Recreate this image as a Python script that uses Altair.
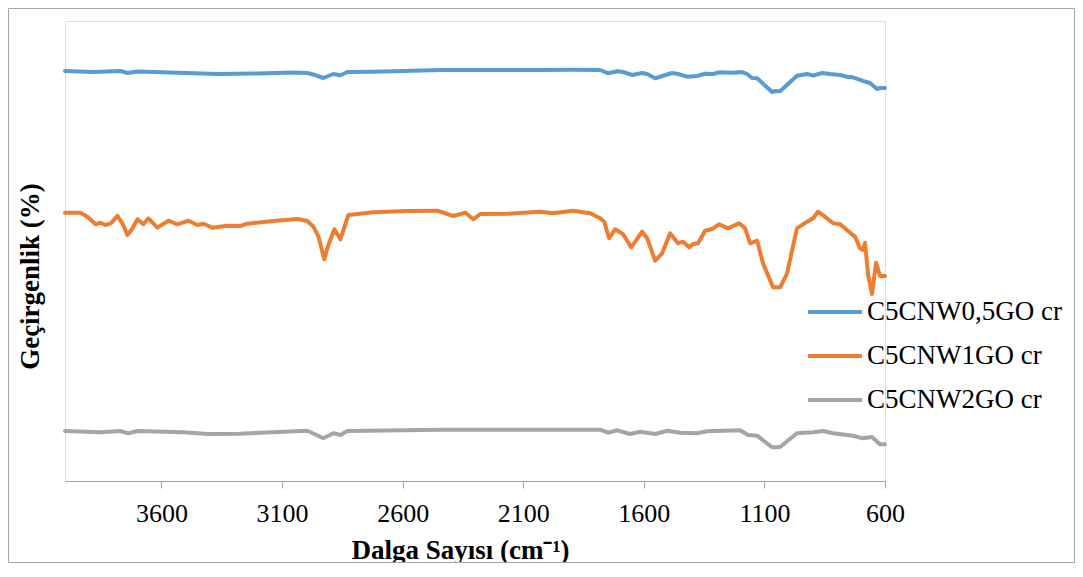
import altair as alt
import pandas as pd

series_names = ["C5CNW0,5GO cr", "C5CNW1GO cr", "C5CNW2GO cr"]
series_colors = ["#5B9BD5", "#ED7D31", "#A5A5A5"]
x_ticks = [3600, 3100, 2600, 2100, 1600, 1100, 600]

blue_wn = [4000, 3882, 3770, 3741, 3699, 3633, 3467, 3368, 3202, 3053, 2995, 2970, 2929, 2887,
           2858, 2829, 2722, 2444, 2030, 1893, 1781, 1748, 1710, 1686, 1648, 1607, 1586, 1553,
           1524, 1483, 1458, 1420, 1379, 1346, 1313, 1284, 1230, 1193, 1172, 1151, 1130, 1068,
           1056, 1035, 965, 923, 898, 861, 828, 786, 757, 733, 691, 662, 633, 621, 600]
blue_t = [89.13, 88.91, 89.13, 88.70, 89.02, 88.91, 88.63, 88.48, 88.59, 88.80, 88.70, 88.37,
          87.61, 88.48, 88.20, 88.91, 88.98, 89.35, 89.35, 89.41, 89.35, 88.63, 89.07, 88.91,
          88.26, 88.70, 88.48, 87.54, 88.04, 88.70, 88.48, 87.89, 88.04, 88.54, 88.48, 88.85,
          88.76, 88.91, 88.48, 87.61, 87.54, 84.57, 84.78, 84.72, 88.11, 88.48, 88.11, 88.70,
          88.48, 88.26, 87.89, 87.76, 86.96, 86.52, 85.22, 85.43, 85.43]

orange_wn = [4000, 3936, 3907, 3873, 3853, 3832, 3811, 3782, 3762, 3741, 3720, 3699, 3675, 3654,
             3617, 3571, 3534, 3488, 3451, 3426, 3389, 3327, 3273, 3244, 3136, 3036, 2995, 2970,
             2949, 2925, 2908, 2883, 2858, 2825, 2722, 2581, 2456, 2390, 2340, 2307, 2278, 2166,
             2030, 1976, 1893, 1822, 1781, 1764, 1744, 1719, 1686, 1652, 1607, 1586, 1553, 1524,
             1491, 1458, 1437, 1412, 1396, 1375, 1346, 1317, 1288, 1251, 1205, 1180, 1159, 1130,
             1106, 1064, 1035, 1006, 965, 923, 898, 878, 849, 815, 786, 737, 724, 704, 691, 683,
             670, 654, 637, 621, 600]
orange_t = [58.33, 58.33, 57.46, 55.80, 56.15, 55.65, 56.02, 57.61, 56.02, 53.48, 54.93, 56.89,
            55.80, 57.11, 55.07, 56.59, 55.80, 56.59, 55.65, 55.93, 55.07, 55.50, 55.43, 55.93,
            56.52, 56.96, 56.52, 55.28, 53.11, 48.20, 51.30, 54.72, 52.54, 57.83, 58.41, 58.70,
            58.76, 57.61, 58.33, 56.89, 58.04, 58.11, 58.54, 58.20, 58.76, 58.20, 57.11, 56.37,
            52.76, 54.72, 53.63, 50.80, 54.20, 52.76, 47.89, 49.50, 53.85, 51.67, 52.02, 50.80,
            51.52, 51.67, 54.41, 54.78, 55.80, 54.93, 56.02, 54.93, 51.67, 52.24, 47.33, 42.11,
            42.11, 45.15, 54.93, 56.37, 57.11, 58.54, 57.46, 56.02, 55.80, 53.63, 53.11, 50.59,
            50.22, 51.80, 44.78, 40.65, 47.46, 44.57, 44.57]

gray_wn = [4000, 3853, 3770, 3737, 3699, 3509, 3409, 3273, 2995, 2929, 2887, 2858, 2829, 2444,
           2030, 1781, 1748, 1710, 1657, 1615, 1553, 1503, 1449, 1379, 1338, 1201, 1168, 1130,
           1068, 1035, 965, 898, 857, 815, 733, 691, 654, 621, 600]
gray_t = [10.87, 10.59, 10.87, 10.37, 10.87, 10.59, 10.22, 10.28, 10.93, 9.28, 10.37, 10.00,
          10.87, 11.15, 11.15, 11.15, 10.50, 11.02, 10.22, 10.72, 10.22, 10.93, 10.50, 10.37,
          10.80, 11.02, 10.00, 9.85, 7.33, 7.39, 10.37, 10.59, 10.87, 10.37, 9.85, 9.28, 9.57,
          7.98, 7.98]

rows = []
for name, wns, ts in zip(series_names, [blue_wn, orange_wn, gray_wn], [blue_t, orange_t, gray_t]):
    for i, (w, t) in enumerate(zip(wns, ts)):
        rows.append({"series": name, "wn": w, "t": t, "idx": i})
df = pd.DataFrame(rows)

W, H = 820, 460
FONT = "Liberation Serif"

lines = alt.Chart(df).mark_line(strokeWidth=4, strokeJoin="round", strokeCap="round").encode(
    x=alt.X("wn:Q",
            scale=alt.Scale(domain=[600, 4000], reverse=True, nice=False, zero=False),
            axis=alt.Axis(values=x_ticks, format="d", title="Dalga Sayısı (cm⁻¹)", grid=False,
                          domainColor="#A6A6A6", domainWidth=1, tickColor="#A6A6A6",
                          tickSize=7, tickWidth=1, labelFont=FONT, labelFontSize=26,
                          labelColor="#000000", labelPadding=12, labelFlush=False,
                          titleFont=FONT, titleFontSize=27, titleFontWeight="bold",
                          titleColor="#000000", titleX=395, titleY=69,
                          titleBaseline="middle", titleAnchor="start", titleAlign="center")),
    y=alt.Y("t:Q", scale=alt.Scale(domain=[0, 100], nice=False),
            axis=alt.Axis(labels=False, ticks=False, domain=False, grid=False,
                          title="Geçirgenlik (%)", titleFont=FONT, titleFontSize=27,
                          titleFontWeight="bold", titleColor="#000000",
                          titleX=-35, titleY=255, titleAngle=-90, titleBaseline="middle",
                          titleAlign="center")),
    color=alt.Color("series:N",
                    scale=alt.Scale(domain=series_names, range=series_colors),
                    legend=alt.Legend(title=None, orient="none", legendX=741, legendY=262,
                                      symbolType="stroke", symbolSize=2916,
                                      symbolStrokeWidth=4, labelFont=FONT, labelFontSize=27,
                                      labelColor="#000000", labelOffset=3, rowPadding=2,
                                      padding=0, labelLimit=400)),
    order="idx:Q",
)

frame = alt.Chart(pd.DataFrame({"k": [0]})).mark_rect(
    filled=False, stroke="#A6A6A6", strokeWidth=1
).encode(
    x=alt.value(-56.5), x2=alt.value(W + 189.5),
    y=alt.value(-12.5), y2=alt.value(H + 81.5),
)

chart = alt.layer(frame, lines).properties(
    width=W, height=H,
    autosize=alt.AutoSizeParams(type="none"),
    padding={"left": 57, "top": 13, "right": 190, "bottom": 82},
).configure_view(stroke=None).configure(background="white")

chart.save("out.html", embed_options={"renderer": "svg", "actions": False})
